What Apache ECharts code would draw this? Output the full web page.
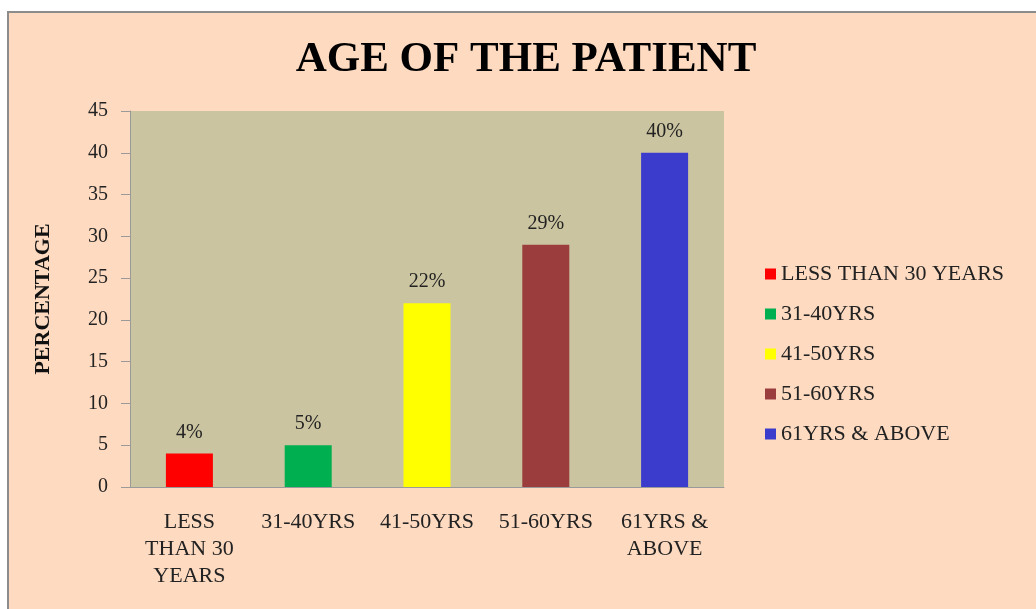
<!DOCTYPE html>
<html>
<head>
<meta charset="utf-8">
<title>AGE OF THE PATIENT</title>
<script src="https://cdn.jsdelivr.net/npm/echarts@6/dist/echarts.min.js"></script>
<style>
    html, body { margin: 0; padding: 0; background: #fff; overflow: hidden; }
    #panel {
        position: absolute; left: 7px; top: 11px; width: 1100px; height: 700px;
        background: #fddac0; border-left: 2px solid #8c8c8c; border-top: 2px solid #8c8c8c;
    }
    #main { position: absolute; left: 0; top: 0; width: 1036px; height: 609px; }
</style>
</head>
<body>
<div id="panel"></div>
<div id="main"></div>
<script>
// 数据
var categories = ['LESS\nTHAN 30\nYEARS', '31-40YRS', '41-50YRS', '51-60YRS', '61YRS &\nABOVE'];
var legendNames = ['LESS THAN 30 YEARS', '31-40YRS', '41-50YRS', '51-60YRS', '61YRS & ABOVE'];
var percents = [4, 5, 22, 29, 40];
var barColors = ['#ff0000', '#00b050', '#ffff00', '#9b3d3d', '#3c3ccc'];
var yMin = 0, yMax = 45, yStep = 5;

var serif = '"Liberation Serif", "Times New Roman", serif';
var chart = echarts.init(document.getElementById('main'));

// 每个年龄段一个系列，放在同一个堆叠里，柱子居中
var series = [];
for (var i = 0; i < legendNames.length; i++) {
    var d = [];
    for (var j = 0; j < categories.length; j++) {
        d.push(j === i ? percents[i] : '-');
    }
    series.push({
        name: legendNames[i],
        type: 'bar',
        stack: 'age',
        barWidth: 47,
        itemStyle: { color: barColors[i] },
        label: {
            show: true,
            position: 'top',
            distance: 11,
            formatter: '{c}%',
            fontFamily: serif,
            fontSize: 20,
            color: '#222'
        },
        data: d
    });
}

var option = {
    animation: false,
    title: {
        text: 'AGE OF THE PATIENT',
        left: 521,
        top: 33,
        textAlign: 'center',
        textStyle: { fontFamily: serif, fontSize: 43, fontWeight: 'bold', color: '#000' }
    },
    legend: {
        orient: 'vertical',
        left: 760,
        top: 258,
        itemWidth: 11,
        itemHeight: 11,
        itemGap: 18,
        icon: 'rect',
        data: legendNames,
        textStyle: { fontFamily: serif, fontSize: 22, color: '#222' }
    },
    grid: {
        left: 130, top: 111, right: 312, bottom: 122,
        show: true, backgroundColor: '#cbc4a1', borderWidth: 0
    },
    xAxis: {
        type: 'category',
        data: categories,
        axisLine: { lineStyle: { color: '#9a9a9a', width: 1 } },
        axisTick: { show: false },
        axisLabel: {
            interval: 0, margin: 22,
            fontFamily: serif, fontSize: 22, lineHeight: 27, color: '#222'
        }
    },
    yAxis: {
        type: 'value',
        min: yMin, max: yMax, interval: yStep,
        name: 'PERCENTAGE',
        nameLocation: 'middle',
        nameGap: 76,
        nameTextStyle: { fontFamily: serif, fontSize: 22, fontWeight: 'bold', color: '#111' },
        axisLine: { show: true, lineStyle: { color: '#9a9a9a', width: 1 } },
        axisTick: { show: true, length: 9, lineStyle: { color: '#9a9a9a' } },
        splitLine: { show: false },
        axisLabel: { margin: 22, fontFamily: serif, fontSize: 20, color: '#222' }
    },
    series: series
};
chart.setOption(option);
</script>
</body>
</html>
